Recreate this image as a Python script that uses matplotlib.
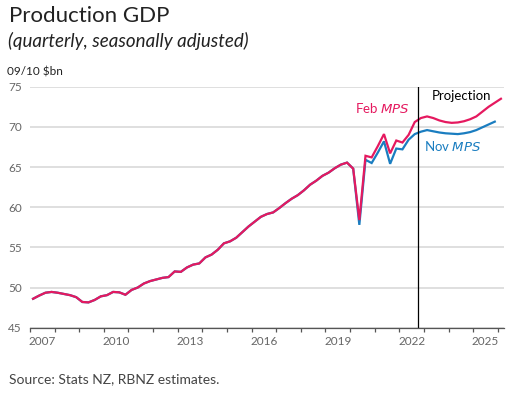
import matplotlib
matplotlib.use("Agg")
import matplotlib.pyplot as plt
import numpy as np

# quarterly production GDP, 09/10 $bn, 2007Q1 onwards
shared_hist = [
    48.6, 49.0, 49.35, 49.45,
    49.35, 49.2, 49.05, 48.8,
    48.2, 48.15, 48.45, 48.9,
    49.05, 49.45, 49.4, 49.1,
    49.7, 50.0, 50.5, 50.8,
    51.0, 51.2, 51.3, 52.0,
    51.95, 52.5, 52.85, 53.0,
    53.75, 54.1, 54.7, 55.5,
    55.75, 56.2, 56.9, 57.6,
    58.2, 58.8, 59.15, 59.35,
    59.9, 60.5, 61.05, 61.5,
    62.1, 62.8, 63.3, 63.9,
    64.3, 64.85, 65.3, 65.55,
    64.8,
]
# 2020Q2 onwards
feb_tail = [58.4, 66.4, 66.2,
            67.6, 69.1, 66.7, 68.3,
            68.05, 69.0, 70.6, 71.1,
            71.3, 71.1, 70.8, 70.6,
            70.5, 70.55, 70.7, 70.95,
            71.3, 71.9, 72.5, 73.0,
            73.5]
nov_tail = [57.8, 65.9, 65.5,
            66.8, 68.2, 65.4, 67.3,
            67.2, 68.4, 69.1, 69.4,
            69.6, 69.45, 69.3, 69.2,
            69.15, 69.1, 69.2, 69.35,
            69.6, 69.95, 70.3, 70.65]

feb_mps = shared_hist + feb_tail
nov_mps = shared_hist + nov_tail

start_year = 2007
projection_start = 2022.75
year_labels = [2007, 2010, 2013, 2016, 2019, 2022, 2025]
y_ticks = [45, 50, 55, 60, 65, 70, 75]

colors = {
    'feb': '#e5195f',
    'nov': '#1a7dc0',
    'text': '#222222',
    'tick': '#666666',
    'grid': '#dcdcdc',
}

plt.rcParams['font.family'] = ['Lato', 'DejaVu Sans']

x_feb = start_year + 0.125 + 0.25 * np.arange(len(feb_mps))
x_nov = start_year + 0.125 + 0.25 * np.arange(len(nov_mps))

fig = plt.figure(figsize=(5.12, 3.97), dpi=100)
ax = fig.add_axes([0.0586, 0.1746, 0.9258, 0.607])

ax.plot(x_nov, nov_mps, color=colors['nov'], linewidth=1.6, solid_joinstyle='miter')
ax.plot(x_feb, feb_mps, color=colors['feb'], linewidth=1.6, solid_joinstyle='miter')

ax.axvline(projection_start, color='black', linewidth=0.9)

ax.set_xlim(2007, 2026.25)
ax.set_ylim(45, 75)

ax.set_yticks(y_ticks)
ax.set_yticklabels([str(v) for v in y_ticks])
ax.yaxis.grid(True, color=colors['grid'], linewidth=1.3)
ax.set_axisbelow(True)
ax.tick_params(axis='y', length=0, pad=6, labelsize=8.5, labelcolor=colors['tick'])

ax.set_xticks(np.arange(2007, 2027))
ax.set_xticklabels([])
ax.tick_params(axis='x', which='major', length=3, width=0.9, color='#555555')
ax.set_xticks([y + 0.5 for y in year_labels], [str(y) for y in year_labels], minor=True)
ax.tick_params(axis='x', which='minor', length=0, pad=6, labelsize=8.5, labelcolor=colors['tick'])

for side in ['top', 'right', 'left']:
    ax.spines[side].set_visible(False)
ax.spines['bottom'].set_color('#555555')
ax.spines['bottom'].set_linewidth(0.9)

ax.text(2023.3, 73.9, 'Projection', fontsize=9.5, color='black', ha='left', va='center')
ax.text(2022.4, 72.3, 'Feb $\\it{MPS}$', fontsize=9.5, color=colors['feb'], ha='right', va='center')
ax.text(2023.0, 67.6, 'Nov $\\it{MPS}$', fontsize=9.5, color=colors['nov'], ha='left', va='center')

fig.text(0.018, 0.960, 'Production GDP', fontsize=16, color=colors['text'], va='center', ha='left')
fig.text(0.016, 0.898, '(quarterly, seasonally adjusted)', fontsize=13.5, style='italic',
         color=colors['text'], va='center', ha='left')
fig.text(0.014, 0.818, '09/10 $bn', fontsize=8.5, color=colors['text'], va='center', ha='left')
fig.text(0.018, 0.045, 'Source: Stats NZ, RBNZ estimates.', fontsize=10, color='#444444',
         va='center', ha='left')

plt.savefig('out.png', dpi=100)
